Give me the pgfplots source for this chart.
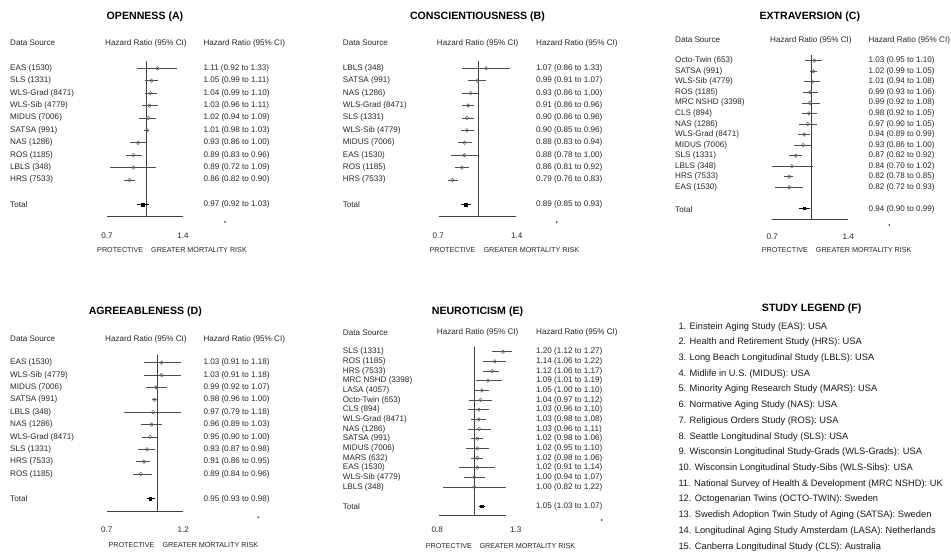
\documentclass[border=0pt]{standalone}
\usepackage{fontspec}
\setmainfont{Liberation Sans}
\usepackage{pgfplots}
\usepackage{pgfplotstable}
\pgfplotsset{compat=1.18}

\pgfplotstableread{
row hr lo hi
1 1.11 0.92 1.33
2 1.05 0.99 1.11
3 1.04 0.99 1.10
4 1.03 0.96 1.11
5 1.02 0.94 1.09
6 1.01 0.98 1.03
7 0.93 0.86 1.00
8 0.89 0.83 0.96
9 0.89 0.72 1.09
10 0.86 0.82 0.90
}\tabA
\pgfplotstableread{
row hr lo hi
12 0.97 0.92 1.03
}\totA

\pgfplotstableread{
row hr lo hi
1 1.07 0.86 1.33
2 0.99 0.91 1.07
3 0.93 0.86 1.00
4 0.91 0.86 0.96
5 0.90 0.86 0.96
6 0.90 0.85 0.96
7 0.88 0.83 0.94
8 0.88 0.78 1.00
9 0.86 0.81 0.92
10 0.79 0.76 0.83
}\tabB
\pgfplotstableread{
row hr lo hi
12 0.89 0.85 0.93
}\totB

\pgfplotstableread{
row hr lo hi
1 1.03 0.95 1.10
2 1.02 0.99 1.05
3 1.01 0.94 1.08
4 0.99 0.93 1.06
5 0.99 0.92 1.08
6 0.98 0.92 1.05
7 0.97 0.90 1.05
8 0.94 0.89 0.99
9 0.93 0.86 1.00
10 0.87 0.82 0.92
11 0.84 0.70 1.02
12 0.82 0.78 0.85
13 0.82 0.72 0.93
}\tabC
\pgfplotstableread{
row hr lo hi
15 0.94 0.90 0.99
}\totC

\pgfplotstableread{
row hr lo hi
1 1.03 0.91 1.18
2 1.03 0.91 1.18
3 0.99 0.92 1.07
4 0.98 0.96 1.00
5 0.97 0.79 1.18
6 0.96 0.89 1.03
7 0.95 0.90 1.00
8 0.93 0.87 0.98
9 0.91 0.86 0.95
10 0.89 0.84 0.96
}\tabD
\pgfplotstableread{
row hr lo hi
12 0.95 0.93 0.98
}\totD

\pgfplotstableread{
row hr lo hi
1 1.20 1.12 1.27
2 1.14 1.06 1.22
3 1.12 1.06 1.17
4 1.09 1.01 1.19
5 1.05 1.00 1.10
6 1.04 0.97 1.12
7 1.03 0.96 1.10
8 1.03 0.98 1.08
9 1.03 0.96 1.11
10 1.02 0.98 1.06
11 1.02 0.95 1.10
12 1.02 0.98 1.06
13 1.02 0.91 1.14
14 1.00 0.94 1.07
15 1.00 0.82 1.22
}\tabE
\pgfplotstableread{
row hr lo hi
17 1.05 1.03 1.07
}\totE

\newcommand{\fplot}[5]{%
  \addplot[only marks, mark=#1, mark size=#2, mark options={draw=#3, fill=#3, line width=0.55pt},
    error bars/.cd, x dir=both, x explicit, error mark=none,
    error bar style={line width=0.65pt, draw=#4}]
  table[x=hr, y=row, x error plus expr=\thisrow{hi}-\thisrow{hr}, x error minus expr=\thisrow{hr}-\thisrow{lo}] {#5};}
\newcommand{\studies}[1]{\fplot{o}{1.75pt}{black!60}{black!70}{#1}}
\newcommand{\totals}[1]{\fplot{square*}{1.3pt}{black}{black}{#1}}

\begin{document}
\begin{tikzpicture}[x=1pt,y=1pt,
  txt/.style={anchor=west, inner sep=0pt, font=\fontsize{8.1}{9}\selectfont, text=black!85},
  tck/.style={anchor=center, inner sep=0pt, font=\fontsize{8.1}{9}\selectfont, text=black!85},
  bot/.style={anchor=west, inner sep=0pt, font=\fontsize{7.2}{8}\selectfont, text=black!85},
  ttl/.style={anchor=center, inner sep=0pt, font=\fontsize{10.6}{12}\selectfont\bfseries, text=black},
  leg/.style={anchor=west, inner sep=0pt, font=\fontsize{9.3}{11}\selectfont, text=black!90}]
\path[use as bounding box] (0,0) rectangle (951,553);

% ---------------- Panel A ----------------
\begin{axis}[xmode=log, scale only axis, y dir=reverse, hide axis, clip=false, anchor=north west,
  at={(107pt,492pt)}, width=76pt, height=155pt,
  xmin=0.7, xmax=1.4, ymin=0.41, ymax=12.9]
\addplot[draw=black!75, line width=0.6pt, mark=none] coordinates {(1,0.41) (1,12.9)};
\addplot[draw=black!75, line width=0.6pt, mark=none] coordinates {(0.7,12.9) (1.4,12.9)};
\studies{\tabA}
\totals{\totA}
\end{axis}
\node[ttl] at (145,536) {OPENNESS (A)};
\node[txt] at (10,510) {Data Source};
\node[txt] at (105,510) {Hazard Ratio (95\% CI)};
\node[txt] at (203.3,510) {Hazard Ratio (95\% CI)};
\foreach \t [count=\i] in {EAS (1530),SLS (1331),WLS-Grad (8471),WLS-Sib (4779),MIDUS (7006),SATSA (991),NAS (1286),ROS (1185),LBLS (348),HRS (7533)}
  \node[txt] at (10,{484.7-(\i-1)*12.4}) {\t};
\foreach \t [count=\i] in {1.11 (0.92 to 1.33),1.05 (0.99 to 1.11),1.04 (0.99 to 1.10),1.03 (0.96 to 1.11),1.02 (0.94 to 1.09),1.01 (0.98 to 1.03),0.93 (0.86 to 1.00),0.89 (0.83 to 0.96),0.89 (0.72 to 1.09),0.86 (0.82 to 0.90)}
  \node[txt] at (203.3,{484.7-(\i-1)*12.4}) {\t};
\node[txt] at (10,348.3) {Total};
\node[txt] at (203.3,348.3) {0.97 (0.92 to 1.03)};
\node[tck] at (107,317) {0.7};
\node[tck] at (183,317) {1.4};
\node[bot] at (97,303) {PROTECTIVE};
\node[bot] at (151,303) {GREATER MORTALITY RISK};
\fill[black!85] (225,331) circle (0.9);

% ---------------- Panel B ----------------
\begin{axis}[xmode=log, scale only axis, y dir=reverse, hide axis, clip=false, anchor=north west,
  at={(439pt,492pt)}, width=77pt, height=155pt,
  xmin=0.7, xmax=1.4, ymin=0.41, ymax=12.9]
\addplot[draw=black!75, line width=0.6pt, mark=none] coordinates {(1,0.41) (1,12.9)};
\addplot[draw=black!75, line width=0.6pt, mark=none] coordinates {(0.7,12.9) (1.4,12.9)};
\studies{\tabB}
\totals{\totB}
\end{axis}
\node[ttl] at (477.5,536) {CONSCIENTIOUSNESS (B)};
\node[txt] at (342.7,510) {Data Source};
\node[txt] at (436.7,510) {Hazard Ratio (95\% CI)};
\node[txt] at (536,510) {Hazard Ratio (95\% CI)};
\foreach \t [count=\i] in {LBLS (348),SATSA (991),NAS (1286),WLS-Grad (8471),SLS (1331),WLS-Sib (4779),MIDUS (7006),EAS (1530),ROS (1185),HRS (7533)}
  \node[txt] at (342.7,{484.7-(\i-1)*12.4}) {\t};
\foreach \t [count=\i] in {1.07 (0.86 to 1.33),0.99 (0.91 to 1.07),0.93 (0.86 to 1.00),0.91 (0.86 to 0.96),0.90 (0.86 to 0.96),0.90 (0.85 to 0.96),0.88 (0.83 to 0.94),0.88 (0.78 to 1.00),0.86 (0.81 to 0.92),0.79 (0.76 to 0.83)}
  \node[txt] at (536,{484.7-(\i-1)*12.4}) {\t};
\node[txt] at (342.7,348.3) {Total};
\node[txt] at (536,348.3) {0.89 (0.85 to 0.93)};
\node[tck] at (438.3,317) {0.7};
\node[tck] at (516.7,317) {1.4};
\node[bot] at (429.3,303) {PROTECTIVE};
\node[bot] at (483.3,303) {GREATER MORTALITY RISK};
\fill[black!85] (556.7,331) circle (0.9);

% ---------------- Panel C ----------------
\begin{axis}[xmode=log, scale only axis, y dir=reverse, hide axis, clip=false, anchor=north west,
  at={(771.7pt,498pt)}, width=76.6pt, height=164.3pt,
  xmin=0.7, xmax=1.4, ymin=0.46, ymax=16.03]
\addplot[draw=black!75, line width=0.6pt, mark=none] coordinates {(1,0.46) (1,16.03)};
\addplot[draw=black!75, line width=0.6pt, mark=none] coordinates {(0.7,16.03) (1.4,16.03)};
\studies{\tabC}
\totals{\totC}
\end{axis}
\node[ttl] at (809.8,536) {EXTRAVERSION (C)};
\node[txt] at (675,513) {Data Source};
\node[txt] at (770,513) {Hazard Ratio (95\% CI)};
\node[txt] at (868.3,513) {Hazard Ratio (95\% CI)};
\foreach \t [count=\i] in {Octo-Twin (653),SATSA (991),WLS-Sib (4779),ROS (1185),MRC NSHD (3398),CLS (894),NAS (1286),WLS-Grad (8471),MIDUS (7006),SLS (1331),LBLS (348),HRS (7533),EAS (1530)}
  \node[txt] at (675,{492.3-(\i-1)*10.55}) {\t};
\foreach \t [count=\i] in {1.03 (0.95 to 1.10),1.02 (0.99 to 1.05),1.01 (0.94 to 1.08),0.99 (0.93 to 1.06),0.99 (0.92 to 1.08),0.98 (0.92 to 1.05),0.97 (0.90 to 1.05),0.94 (0.89 to 0.99),0.93 (0.86 to 1.00),0.87 (0.82 to 0.92),0.84 (0.70 to 1.02),0.82 (0.78 to 0.85),0.82 (0.72 to 0.93)}
  \node[txt] at (868.3,{492.3-(\i-1)*10.55}) {\t};
\node[txt] at (675,343.7) {Total};
\node[txt] at (868.3,343.7) {0.94 (0.90 to 0.99)};
\node[tck] at (772.3,316.3) {0.7};
\node[tck] at (848.3,316.3) {1.4};
\node[bot] at (761.7,303) {PROTECTIVE};
\node[bot] at (815.7,303) {GREATER MORTALITY RISK};
\fill[black!85] (889.3,328) circle (0.9);

% ---------------- Panel D ----------------
\begin{axis}[xmode=log, scale only axis, y dir=reverse, hide axis, clip=false, anchor=north west,
  at={(106.7pt,198pt)}, width=76.6pt, height=156pt,
  xmin=0.7, xmax=1.2, ymin=0.38, ymax=12.99]
\addplot[draw=black!75, line width=0.6pt, mark=none] coordinates {(1,0.38) (1,12.99)};
\addplot[draw=black!75, line width=0.6pt, mark=none] coordinates {(0.7,12.99) (1.2,12.99)};
\studies{\tabD}
\totals{\totD}
\end{axis}
\node[ttl] at (145.3,241.3) {AGREEABLENESS (D)};
\node[txt] at (10,214) {Data Source};
\node[txt] at (105,214) {Hazard Ratio (95\% CI)};
\node[txt] at (203.3,214) {Hazard Ratio (95\% CI)};
\foreach \t [count=\i] in {EAS (1530),WLS-Sib (4779),MIDUS (7006),SATSA (991),LBLS (348),NAS (1286),WLS-Grad (8471),SLS (1331),HRS (7533),ROS (1185)}
  \node[txt] at (10,{190.3-(\i-1)*12.37}) {\t};
\foreach \t [count=\i] in {1.03 (0.91 to 1.18),1.03 (0.91 to 1.18),0.99 (0.92 to 1.07),0.98 (0.96 to 1.00),0.97 (0.79 to 1.18),0.96 (0.89 to 1.03),0.95 (0.90 to 1.00),0.93 (0.87 to 0.98),0.91 (0.86 to 0.95),0.89 (0.84 to 0.96)}
  \node[txt] at (203.3,{190.3-(\i-1)*12.37}) {\t};
\node[txt] at (10,54) {Total};
\node[txt] at (203.3,54) {0.95 (0.93 to 0.98)};
\node[tck] at (106.7,23) {0.7};
\node[tck] at (183.3,23) {1.2};
\node[bot] at (108.3,8) {PROTECTIVE};
\node[bot] at (162.3,8) {GREATER MORTALITY RISK};
\fill[black!85] (258.3,35.7) circle (0.9);

% ---------------- Panel E ----------------
\begin{axis}[xmode=log, scale only axis, y dir=reverse, hide axis, clip=false, anchor=north west,
  at={(439pt,206.3pt)}, width=76.7pt, height=168.3pt,
  xmin=0.8, xmax=1.3, ymin=0.48, ymax=17.9]
\addplot[draw=black!75, line width=0.6pt, mark=none] coordinates {(1,0.48) (1,17.9)};
\addplot[draw=black!75, line width=0.6pt, mark=none] coordinates {(0.8,17.9) (1.22,17.9)};
\studies{\tabE}
\totals{\totE}
\end{axis}
\node[ttl] at (477.5,241.3) {NEUROTICISM (E)};
\node[txt] at (342.7,220.3) {Data Source};
\node[txt] at (436.7,220.3) {Hazard Ratio (95\% CI)};
\node[txt] at (536,220.3) {Hazard Ratio (95\% CI)};
\foreach \t [count=\i] in {SLS (1331),ROS (1185),HRS (7533),MRC NSHD (3398),LASA (4057),Octo-Twin (653),CLS (894),WLS-Grad (8471),NAS (1286),SATSA (991),MIDUS (7006),MARS (632),EAS (1530),WLS-Sib (4779),LBLS (348)}
  \node[txt] at (342.7,{201.3-(\i-1)*9.66}) {\t};
\foreach \t [count=\i] in {1.20 (1.12 to 1.27),1.14 (1.06 to 1.22),1.12 (1.06 to 1.17),1.09 (1.01 to 1.19),1.05 (1.00 to 1.10),1.04 (0.97 to 1.12),1.03 (0.96 to 1.10),1.03 (0.98 to 1.08),1.03 (0.96 to 1.11),1.02 (0.98 to 1.06),1.02 (0.95 to 1.10),1.02 (0.98 to 1.06),1.02 (0.91 to 1.14),1.00 (0.94 to 1.07),1.00 (0.82 to 1.22)}
  \node[txt] at (536,{201.3-(\i-1)*9.66}) {\t};
\node[txt] at (342.7,46.3) {Total};
\node[txt] at (536,46.3) {1.05 (1.03 to 1.07)};
\node[tck] at (437.3,23) {0.8};
\node[tck] at (515.7,23) {1.3};
\node[bot] at (425.7,7.3) {PROTECTIVE};
\node[bot] at (479.3,7.3) {GREATER MORTALITY RISK};
\fill[black!85] (601.7,33) circle (0.9);

% ---------------- Panel F ----------------
\node[ttl] at (811.7,244.7) {STUDY LEGEND (F)};
\foreach \t [count=\i] in {
  1. Einstein Aging Study (EAS): USA,
  2. Health and Retirement Study (HRS): USA,
  3. Long Beach Longitudinal Study (LBLS): USA,
  4. Midlife in U.S. (MIDUS): USA,
  5. Minority Aging Research Study (MARS): USA,
  6. Normative Aging Study (NAS): USA,
  7. Religious Orders Study (ROS): USA,
  8. Seattle Longitudinal Study (SLS): USA,
  9. Wisconsin Longitudinal Study-Grads (WLS-Grads): USA,
  10. Wisconsin Longitudinal Study-Sibs (WLS-Sibs): USA,
  11. National Survey of Health \& Development (MRC NSHD): UK,
  12. Octogenarian Twins (OCTO-TWIN): Sweden,
  13. Swedish Adoption Twin Study of Aging (SATSA): Sweden,
  14. Longitudinal Aging Study Amsterdam (LASA): Netherlands,
  15. Canberra Longitudinal Study (CLS): Australia}
  \node[leg] at (678.3,{226.3-(\i-1)*15.71}) {\t};
\end{tikzpicture}
\end{document}
